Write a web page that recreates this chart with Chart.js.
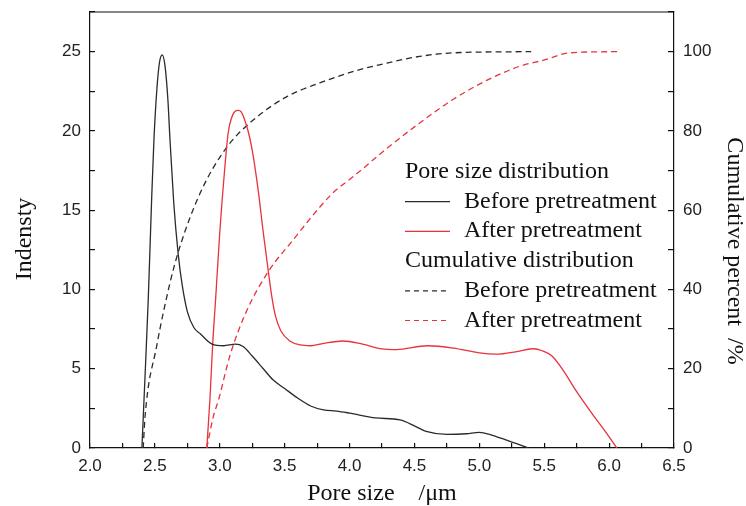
<!DOCTYPE html>
<html>
<head>
<meta charset="utf-8">
<script src="https://cdn.jsdelivr.net/npm/chart.js@4/dist/chart.umd.min.js"></script>
<style>
  body { margin: 0; background: #fff; }
</style>
</head>
<body>
<canvas id="chart" width="746" height="506"></canvas>
<script>
// Pore size distribution, before pretreatment (left axis)
const beforeX = [2.40, 2.425, 2.449, 2.475, 2.493, 2.515, 2.535, 2.557, 2.578, 2.60, 2.616, 2.645, 2.68, 2.71, 2.75, 2.80, 2.85, 2.94, 3.03, 3.12, 3.18, 3.25, 3.335, 3.41, 3.5, 3.6, 3.7, 3.8, 3.9, 4.0, 4.2, 4.39, 4.5, 4.59, 4.75, 4.9, 5.0, 5.1, 5.21, 5.38];
const beforeY = [0, 4.7, 9.4, 15.7, 19.5, 22.6, 24.3, 24.8, 24.1, 22.0, 19.5, 15.5, 12.2, 10.3, 8.6, 7.6, 7.2, 6.55, 6.45, 6.55, 6.4, 5.8, 5.0, 4.3, 3.75, 3.15, 2.65, 2.4, 2.33, 2.2, 1.9, 1.77, 1.4, 1.05, 0.86, 0.9, 0.98, 0.8, 0.5, 0];

// Pore size distribution, after pretreatment (left axis)
const afterX = [2.90, 2.925, 2.945, 2.968, 3.0, 3.04, 3.065, 3.09, 3.12, 3.142, 3.165, 3.20, 3.23, 3.26, 3.30, 3.335, 3.37, 3.40, 3.43, 3.47, 3.54, 3.62, 3.7, 3.8, 3.95, 4.1, 4.25, 4.36, 4.6, 4.8, 5.0, 5.13, 5.3, 5.42, 5.48, 5.56, 5.65, 5.75, 5.87, 5.97, 6.06];
const afterY = [0, 3.2, 6.5, 9.4, 13.6, 17.8, 19.9, 20.8, 21.25, 21.3, 21.2, 20.5, 19.6, 18.3, 16.0, 13.6, 11.4, 9.6, 8.3, 7.4, 6.75, 6.5, 6.45, 6.6, 6.75, 6.55, 6.25, 6.2, 6.45, 6.3, 6.0, 5.92, 6.1, 6.26, 6.15, 5.8, 4.85, 3.55, 2.15, 1.05, 0];

// Cumulative distribution (right axis, %)
const cumBeforeX = [2.41, 2.424, 2.513, 2.616, 2.69, 2.85, 3.05, 3.26, 3.52, 3.77, 4.03, 4.285, 4.54, 4.8, 5.4];
const cumBeforeY = [0, 7.9, 25.6, 41.6, 50.5, 64.4, 75.7, 82.8, 88.7, 92.1, 95, 97.1, 98.8, 99.7, 100];
const cumAfterX = [2.90, 2.95, 2.99, 3.08, 3.21, 3.38, 3.54, 3.87, 4.03, 4.285, 4.54, 4.80, 5.06, 5.31, 5.49, 5.7, 6.07];
const cumAfterY = [0, 7.9, 12.1, 23.5, 34.8, 44.8, 51.5, 64.3, 68.5, 75.5, 82, 88, 92.8, 96.3, 97.8, 99.7, 100];

const legendItems = [
  { text: "Pore size distribution" },
  { text: "Before pretreatment", color: "#2b2b2b", dash: [] },
  { text: "After pretreatment", color: "#e8323c", dash: [] },
  { text: "Cumulative distribution" },
  { text: "Before pretreatment", color: "#2b2b2b", dash: [5, 4] },
  { text: "After pretreatment", color: "#e8323c", dash: [5, 4] }
];

const BLACK = "#2b2b2b";
const RED = "#e8323c";
const serif = "'Liberation Serif', 'Times New Roman', serif";
const sans = "'Liberation Sans', Arial, sans-serif";

function toPoints(xs, ys) {
  return xs.map((x, i) => ({ x: x, y: ys[i] }));
}

// frame line on top of the plot area
const framePlugin = {
  id: "frame",
  afterDraw(chart) {
    const { ctx, chartArea } = chart;
    ctx.save();
    ctx.strokeStyle = "#111";
    ctx.lineWidth = 1.2;
    ctx.beginPath();
    ctx.moveTo(chartArea.left, chartArea.top);
    ctx.lineTo(chartArea.right, chartArea.top);
    ctx.stroke();
    ctx.restore();
  }
};

// grouped legend drawn inside the plot
const legendPlugin = {
  id: "groupLegend",
  afterDraw(chart) {
    const ctx = chart.ctx;
    ctx.save();
    ctx.font = "24px " + serif;
    ctx.fillStyle = "#111";
    ctx.textBaseline = "alphabetic";
    let y = 178;
    legendItems.forEach(item => {
      if (item.color) {
        ctx.strokeStyle = item.color;
        ctx.lineWidth = 1.2;
        ctx.setLineDash(item.dash);
        ctx.beginPath();
        ctx.moveTo(405, y - 6);
        ctx.lineTo(450, y - 6);
        ctx.stroke();
        ctx.setLineDash([]);
        ctx.fillText(item.text, 464, y);
      } else {
        ctx.fillText(item.text, 405, y);
      }
      y += 29.7;
    });
    ctx.restore();
  }
};

const tickFont = { family: sans, size: 17 };
const titleFont = { family: serif, size: 24, lineHeight: 1 };

// fixed axis boxes so the plot area sits where the original one does
function fitY(width) {
  return s => {
    s.width = width;
    s.paddingTop = 0;
    s.paddingBottom = 0;
  };
}

new Chart(document.getElementById("chart"), {
  type: "line",
  data: {
    datasets: [
      {
        label: "Before pretreatment",
        data: toPoints(beforeX, beforeY),
        borderColor: BLACK,
        borderWidth: 1.3,
        yAxisID: "y"
      },
      {
        label: "After pretreatment",
        data: toPoints(afterX, afterY),
        borderColor: RED,
        borderWidth: 1.3,
        yAxisID: "y"
      },
      {
        label: "Cumulative before",
        data: toPoints(cumBeforeX, cumBeforeY),
        borderColor: BLACK,
        borderWidth: 1.3,
        borderDash: [6, 4],
        yAxisID: "y2"
      },
      {
        label: "Cumulative after",
        data: toPoints(cumAfterX, cumAfterY),
        borderColor: RED,
        borderWidth: 1.3,
        borderDash: [6, 4],
        yAxisID: "y2"
      }
    ]
  },
  options: {
    responsive: false,
    animation: false,
    layout: { padding: { top: 12 } },
    elements: {
      point: { radius: 0 },
      line: { cubicInterpolationMode: "monotone", fill: false }
    },
    plugins: {
      legend: { display: false },
      tooltip: { enabled: false }
    },
    scales: {
      x: {
        type: "linear",
        min: 2.0,
        max: 6.5,
        afterFit: s => { s.height = 58; s.paddingLeft = 0; s.paddingRight = 0; },
        border: { display: true, color: "#111", width: 1.2 },
        grid: { drawOnChartArea: false, drawTicks: true, tickLength: -5, color: "#111", lineWidth: 1.2 },
        ticks: {
          stepSize: 0.25,
          autoSkip: false,
          maxRotation: 0,
          padding: 13,
          color: "#222",
          font: tickFont,
          callback: v => (Math.round(v * 100) % 50 === 0 ? v.toFixed(1) : "")
        },
        title: { display: true, text: "Pore size    /μm", color: "#111", font: titleFont, padding: 0 }
      },
      y: {
        type: "linear",
        position: "left",
        min: 0,
        max: 27.5,
        afterFit: fitY(90),
        border: { display: true, color: "#111", width: 1.2 },
        grid: { drawOnChartArea: false, drawTicks: true, tickLength: -5, color: "#111", lineWidth: 1.2 },
        ticks: {
          stepSize: 2.5,
          autoSkip: false,
          padding: 14,
          color: "#222",
          font: tickFont,
          callback: v => (v % 5 === 0 ? String(v) : "")
        },
        title: { display: true, text: "Indensty   ", color: "#111", font: titleFont, padding: { top: 13, bottom: 0 } }
      },
      y2: {
        type: "linear",
        position: "right",
        min: 0,
        max: 110,
        afterFit: fitY(72),
        border: { display: true, color: "#111", width: 1.2 },
        grid: { drawOnChartArea: false, drawTicks: true, tickLength: -6, color: "#111", lineWidth: 1.2 },
        ticks: {
          stepSize: 10,
          autoSkip: false,
          padding: 15,
          color: "#222",
          font: tickFont,
          callback: v => (v % 20 === 0 && v <= 100 ? String(v) : "")
        },
        title: { display: true, text: "       Cumulative percent  /%", color: "#111", font: titleFont, padding: { top: 0, bottom: 0 } }
      }
    }
  },
  plugins: [framePlugin, legendPlugin]
});
</script>
</body>
</html>
